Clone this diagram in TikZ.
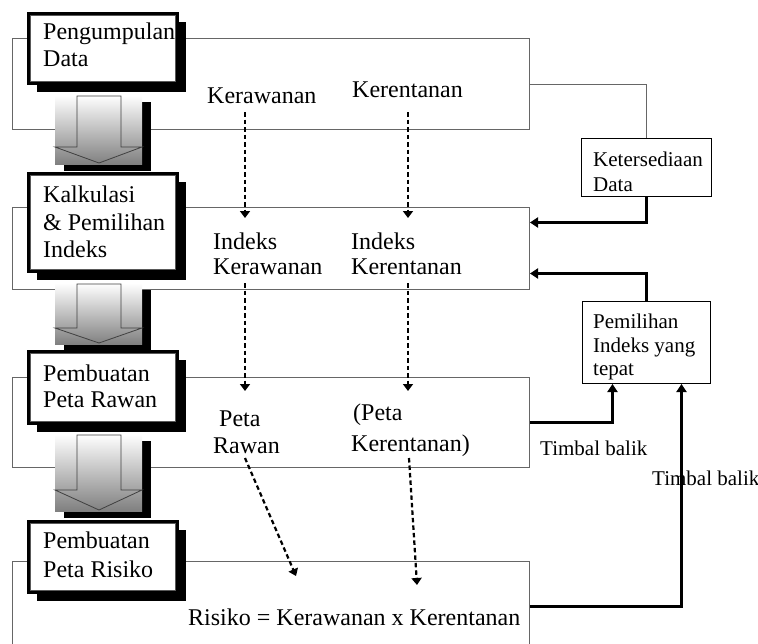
\documentclass[tikz,border=0pt]{standalone}
\usepackage{fontspec}
\setmainfont{Liberation Serif}
\usetikzlibrary{arrows.meta,calc,shadows}
\begin{document}
\begin{tikzpicture}[x=1pt,y=-1pt,
  bigbox/.style={draw=black!60, line width=1pt, inner sep=0, anchor=north west, minimum width=517},
  hbox/.style={draw=black, fill=white, line width=2.5pt, inner sep=0, anchor=north west, minimum width=149,
     general shadow={shadow xshift=9pt, shadow yshift=-9pt, fill=black}},
  garrow/.style={inner sep=0, anchor=north west, minimum width=87, top color=white, bottom color=black!50,
     general shadow={shadow xshift=9pt, shadow yshift=-7pt, fill=black}},
  aline/.style={draw=black!75, line width=0.8pt},
  sbox/.style={draw=black, line width=1pt, inner sep=0, anchor=north west, fill=white},
  txt/.style={anchor=base west, inner sep=0, font=\fontsize{24}{26}\selectfont},
  stxt/.style={anchor=base west, inner sep=0, font=\fontsize{21}{25}\selectfont},
  dash arrow/.style={line width=2.2pt, dash pattern=on 4.5pt off 3pt, -{Triangle[width=10pt,length=7pt]}},
  fb arrow/.style={line width=2.3pt, -{Triangle[width=10pt,length=8pt]}},
  gline/.style={draw=black!60, line width=1pt}]
\useasboundingbox (0,0) rectangle (758,643);

% big process boxes
\node[bigbox, minimum height=91] (B1) at (12,38) {};
\node[bigbox, minimum height=82] (B2) at (12,207) {};
\node[bigbox, minimum height=90] (B3) at (12,377) {};
\node[bigbox, minimum height=90] (B4) at (12,561) {};

% gradient block arrows
\node[garrow, minimum height=69] (G1) at (55,95) {};
\node[garrow, minimum height=61] (G2) at (55,283) {};
\node[garrow, minimum height=77] (G3) at (55,434) {};
\draw[aline] (77,96) -- (77,147) -- (55,147) -- (99,163) -- (142,147) -- (121,147) -- (121,96) -- cycle;
\draw[aline] (77,284) -- (77,328) -- (55,328) -- (99,343) -- (142,328) -- (121,328) -- (121,284) -- cycle;
\draw[aline] (77,435) -- (77,490) -- (55,490) -- (99,510) -- (142,490) -- (121,490) -- (121,435) -- cycle;

% header boxes
\node[hbox, minimum height=70] (H1) at (27,12) {};
\node[hbox, minimum height=98] (H2) at (27,172) {};
\node[hbox, minimum height=72] (H3) at (27,350) {};
\node[hbox, minimum height=71] (H4) at (27,520) {};
\foreach \h in {H1,H2,H3,H4}{
  \draw[line width=0.9pt, black!65] ([shift={(3.5,3.5)}]\h.north west) rectangle ([shift={(-3.5,-3.5)}]\h.south east);
}
\node[txt] (h1a) at (43,39) {Pengumpulan};
\node[txt] (h1b) at (43,66) {Data};
\node[txt] (h2a) at (43,202) {Kalkulasi};
\node[txt] (h2b) at (43,230) {\& Pemilihan};
\node[txt] (h2c) at (43,257) {Indeks};
\node[txt] (h3a) at (43,381) {Pembuatan};
\node[txt] (h3b) at (43,407) {Peta Rawan};
\node[txt] (h4a) at (43,548) {Pembuatan};
\node[txt] (h4b) at (43,577) {Peta Risiko};

% inner texts
\node[txt] (kw) at (207,103) {Kerawanan};
\node[txt] (kt) at (352,97) {Kerentanan};
\node[txt] (ik1) at (213,249) {Indeks};
\node[txt] (ik2) at (213,274) {Kerawanan};
\node[txt] (it1) at (351,249) {Indeks};
\node[txt] (it2) at (351,274) {Kerentanan};
\node[txt] (pr1) at (219,426) {Peta};
\node[txt] (pr2) at (213,453) {Rawan};
\node[txt] (pk1) at (353,420) {(Peta};
\node[txt] (pk2) at (351,451) {Kerentanan)};
\node[txt] (rk) at (188,625) {Risiko = Kerawanan x Kerentanan};

% dashed arrows
\coordinate (d1s) at (245,112); \coordinate (d1e) at (245,218);
\coordinate (d2s) at (408,112); \coordinate (d2e) at (408,218);
\coordinate (d3s) at (245,283); \coordinate (d3e) at (245,391);
\coordinate (d4s) at (408,283); \coordinate (d4e) at (408,391);
\coordinate (d5s) at (245,458); \coordinate (d5e) at (296,576);
\coordinate (d6s) at (409,458); \coordinate (d6e) at (417,585);
\draw[dash arrow] (d1s) -- (d1e);
\draw[dash arrow] (d2s) -- (d2e);
\draw[dash arrow] (d3s) -- (d3e);
\draw[dash arrow] (d4s) -- (d4e);
\draw[dash arrow] (d5s) -- (d5e);
\draw[dash arrow] (d6s) -- (d6e);

% right side boxes
\node[sbox, minimum width=130, minimum height=58] (KD) at (581,138) {};
\node[stxt] (kd1) at (593,166) {Ketersediaan};
\node[stxt] (kd2) at (593,191) {Data};
\node[sbox, minimum width=128, minimum height=82] (PI) at (582,301) {};
\node[stxt] (pi1) at (593,328) {Pemilihan};
\node[stxt] (pi2) at (593,352) {Indeks yang};
\node[stxt] (pi3) at (593,375) {tepat};

% connectors
\draw[gline] (B1.east) -| (KD.north);
\draw[fb arrow] (KD.south) |- ([yshift=26pt]B2.east);
\draw[fb arrow] (PI.north) |- ([yshift=-25pt]B2.east);
\draw[fb arrow] (B3.east) -| ([xshift=-34pt]PI.south);
\draw[fb arrow] (B4.east) -| ([xshift=35pt]PI.south);

\node[stxt] (tb1) at (540,455) {Timbal balik};
\node[stxt] (tb2) at (652,485) {Timbal balik};
\end{tikzpicture}
\end{document}
